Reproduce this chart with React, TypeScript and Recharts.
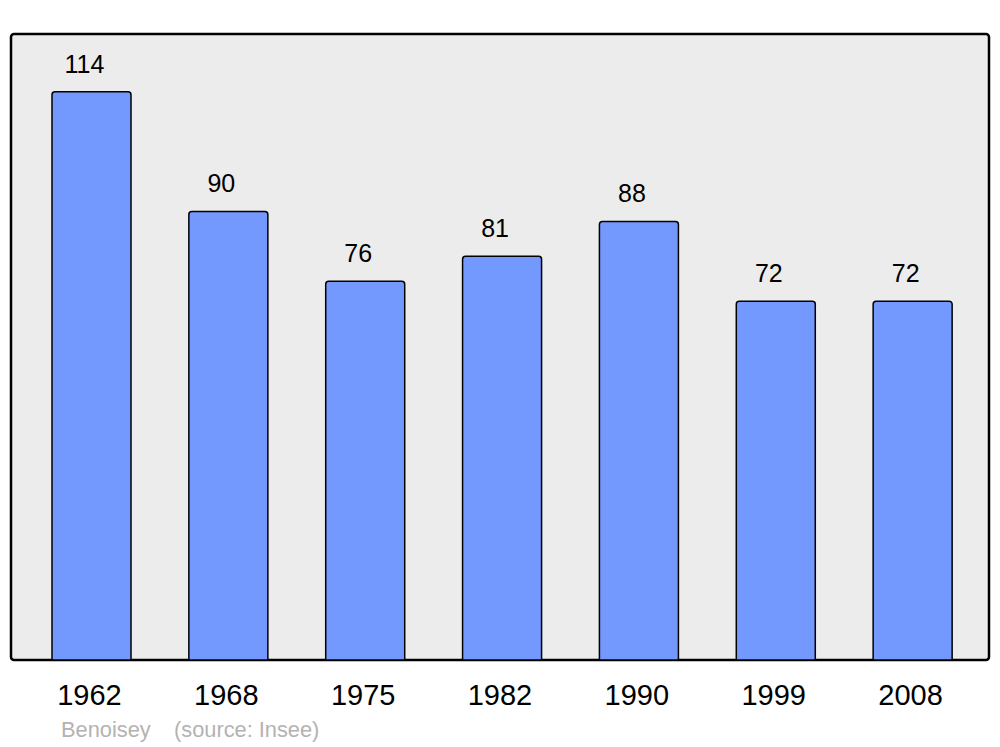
import { BarChart, Bar, XAxis, YAxis, LabelList, CartesianGrid, usePlotArea } from "recharts";

const years = ["1962", "1968", "1975", "1982", "1990", "1999", "2008"];
const population = [114, 90, 76, 81, 88, 72, 72];
const commune = "Benoisey";
const source = "(source: Insee)";

const data = years.map((year, i) => ({ year, population: population[i] }));

const FONT = "'Liberation Sans', Arial, sans-serif";

function Frame() {
  const area = usePlotArea();
  if (!area) return null;
  return (
    <rect
      x={area.x}
      y={area.y}
      width={area.width}
      height={area.height}
      rx={3}
      ry={3}
      fill="none"
      stroke="#000"
      strokeWidth={2.5}
    />
  );
}

function YearTick(props: any) {
  const { x, y, payload } = props;
  return (
    <text x={x - 2} y={y} dy={37} textAnchor="middle" fontSize={29} fill="#000" fontFamily={FONT}>
      {payload.value}
    </text>
  );
}

function ValueLabel(props: any) {
  const { x, y, width, value } = props;
  return (
    <text
      x={x + width / 2 - 7}
      y={y - 28}
      textAnchor="middle"
      dominantBaseline="central"
      fontSize={25}
      fill="#000"
      fontFamily={FONT}
    >
      {value}
    </text>
  );
}

export default function App() {
  const footer = { position: "absolute" as const, top: 717, fontSize: 21.8, color: "#b3b3b3", whiteSpace: "pre" as const };
  return (
    <div style={{ position: "absolute", left: 0, top: 0, width: 1000, height: 747, background: "#fff", fontFamily: FONT }}>
      <BarChart width={1000} height={747} data={data} margin={{ top: 34, right: 11, bottom: 0, left: 11 }}>
        <CartesianGrid horizontal={false} vertical={false} fill="#ececec" fillOpacity={1} />
        <XAxis
          dataKey="year"
          height={87}
          axisLine={false}
          tickLine={false}
          padding={{ left: 12, right: 8 }}
          tick={<YearTick />}
          interval={0}
        />
        <YAxis hide domain={[0, 125.6]} />
        <Bar
          dataKey="population"
          fill="#7399ff"
          stroke="#000"
          strokeWidth={1.5}
          barSize={79}
          radius={[3, 3, 0, 0]}
          isAnimationActive={false}
        >
          <LabelList dataKey="population" content={<ValueLabel />} />
        </Bar>
        <Frame />
      </BarChart>
      <div style={{ ...footer, left: 61 }}>{commune}</div>
      <div style={{ ...footer, left: 174 }}>{source}</div>
    </div>
  );
}
